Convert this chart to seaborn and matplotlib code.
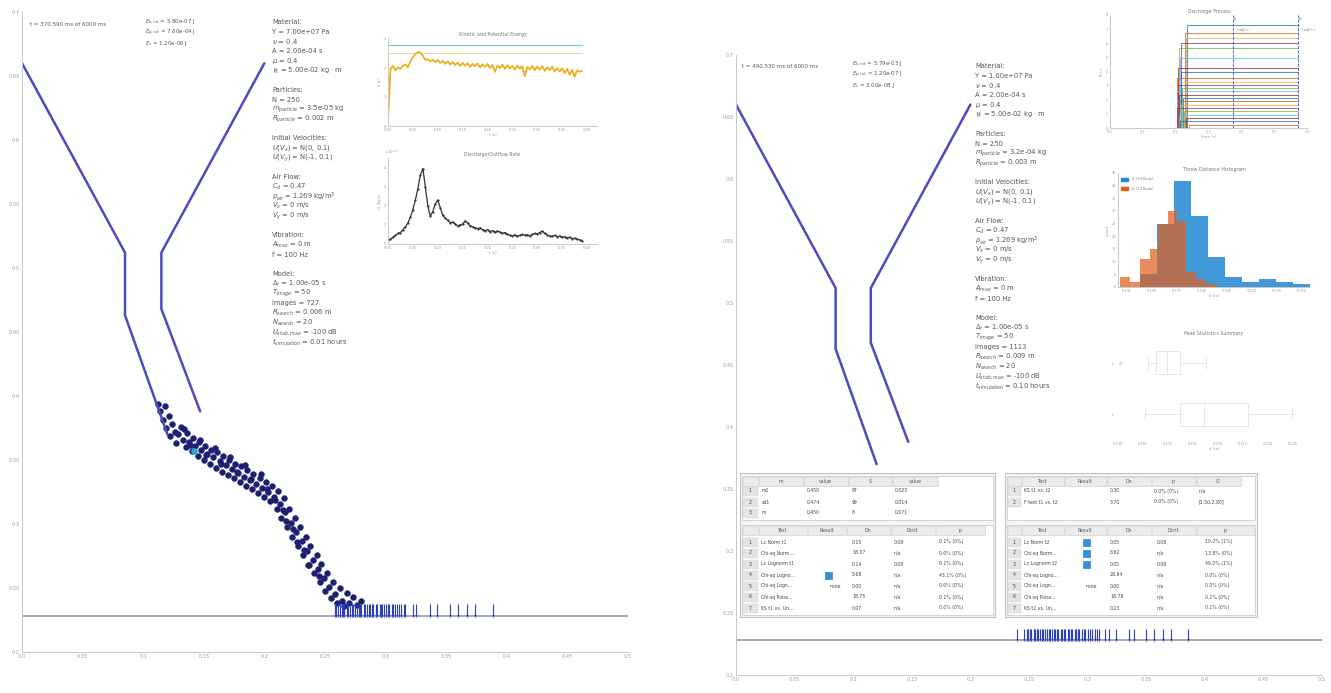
import numpy as np
import pandas as pd
import matplotlib
matplotlib.use("Agg")
import matplotlib.pyplot as plt
from matplotlib.patches import Rectangle, Patch
import seaborn as sns

sns.set_theme(style="white")
plt.rcParams["font.family"] = ["DejaVu Sans"]
plt.rcParams["mathtext.fontset"] = "dejavusans"

# ---------------- data ----------------
# hopper walls (m), same geometry in both snapshots
wall_left_x = [0.0, 0.085, 0.085, 0.12]
wall_left_y = [0.66, 0.512, 0.463, 0.37]
wall_right_x = [0.2, 0.115, 0.115, 0.147]
wall_right_y = [0.66, 0.512, 0.468, 0.388]
ground_y = 0.228

main_xticks = [0.0, 0.05, 0.1, 0.15, 0.2, 0.25, 0.3, 0.35, 0.4, 0.45, 0.5]
main_xlabels = ["0.0", "0.05", "0.1", "0.15", "0.2", "0.25", "0.3", "0.35", "0.4", "0.45", "0.5"]
main_yticks = [0.2, 0.25, 0.3, 0.35, 0.4, 0.45, 0.5, 0.55, 0.6, 0.65, 0.7]
main_ylabels = ["0.2", "0.25", "0.3", "0.35", "0.4", "0.45", "0.5", "0.55", "0.6", "0.65", "0.7"]

# particles still sliding (left snapshot)
particle_x = [0.112, 0.114, 0.116, 0.118, 0.119, 0.121, 0.122, 0.124, 0.126, 0.127,
              0.129, 0.131, 0.133, 0.135, 0.136, 0.138, 0.140, 0.141, 0.143, 0.145,
              0.146, 0.148, 0.150, 0.151, 0.153, 0.155, 0.156, 0.158, 0.160, 0.161,
              0.163, 0.165, 0.166, 0.168, 0.170, 0.171, 0.173, 0.175, 0.176, 0.178,
              0.180, 0.181, 0.183, 0.185, 0.186, 0.188, 0.190, 0.191, 0.193, 0.195,
              0.196, 0.198, 0.200, 0.201, 0.203, 0.205, 0.206, 0.208, 0.210, 0.211,
              0.213, 0.214, 0.216, 0.217, 0.219, 0.220, 0.222, 0.223, 0.225, 0.226,
              0.228, 0.229, 0.231, 0.232, 0.234, 0.235, 0.237, 0.238, 0.240, 0.241,
              0.243, 0.244, 0.246, 0.247, 0.249, 0.250, 0.252, 0.253, 0.255, 0.257,
              0.258, 0.260, 0.262, 0.264, 0.266, 0.268, 0.270, 0.273, 0.276, 0.280,
              0.134, 0.147, 0.159, 0.172, 0.184, 0.197, 0.209, 0.218, 0.227, 0.236,
              0.139, 0.152, 0.164, 0.177, 0.189, 0.202, 0.215, 0.224, 0.233, 0.245]
particle_y = [0.394, 0.388, 0.381, 0.392, 0.375, 0.384, 0.369, 0.378, 0.372, 0.363,
              0.370, 0.376, 0.366, 0.360, 0.371, 0.364, 0.357, 0.367, 0.361, 0.353,
              0.364, 0.358, 0.350, 0.361, 0.355, 0.347, 0.358, 0.352, 0.344, 0.356,
              0.349, 0.341, 0.353, 0.346, 0.338, 0.350, 0.343, 0.336, 0.347, 0.340,
              0.333, 0.345, 0.337, 0.330, 0.342, 0.334, 0.327, 0.339, 0.331, 0.324,
              0.336, 0.328, 0.321, 0.333, 0.325, 0.318, 0.330, 0.321, 0.312, 0.326,
              0.316, 0.305, 0.320, 0.309, 0.298, 0.312, 0.301, 0.290, 0.305, 0.294,
              0.283, 0.298, 0.287, 0.276, 0.290, 0.279, 0.268, 0.283, 0.272, 0.262,
              0.276, 0.265, 0.255, 0.269, 0.258, 0.248, 0.262, 0.251, 0.242, 0.255,
              0.245, 0.238, 0.250, 0.240, 0.236, 0.246, 0.238, 0.243, 0.237, 0.240,
              0.374, 0.366, 0.359, 0.352, 0.346, 0.339, 0.319, 0.302, 0.286, 0.268,
              0.362, 0.354, 0.347, 0.341, 0.335, 0.327, 0.311, 0.296, 0.280, 0.259]
tracked_x = [0.142]
tracked_y = [0.357]

# landing positions on the ground (m)
landed_left = [0.258, 0.259, 0.261, 0.262, 0.264, 0.265, 0.266, 0.268, 0.269, 0.271,
               0.272, 0.273, 0.275, 0.276, 0.278, 0.279, 0.280, 0.282, 0.283, 0.285,
               0.286, 0.287, 0.289, 0.290, 0.292, 0.293, 0.295, 0.296, 0.297, 0.299,
               0.300, 0.302, 0.303, 0.305, 0.306, 0.308, 0.309, 0.311, 0.313, 0.315,
               0.316, 0.323, 0.325, 0.337, 0.342, 0.353, 0.360, 0.367, 0.374, 0.389]
landed_right = [0.240, 0.246, 0.248, 0.249, 0.251, 0.252, 0.254, 0.255, 0.257, 0.258,
                0.259, 0.261, 0.262, 0.264, 0.265, 0.267, 0.268, 0.270, 0.271, 0.272,
                0.274, 0.275, 0.277, 0.278, 0.280, 0.281, 0.283, 0.284, 0.286, 0.287,
                0.289, 0.290, 0.292, 0.293, 0.295, 0.297, 0.298, 0.300, 0.302, 0.304,
                0.306, 0.308, 0.310, 0.315, 0.318, 0.324, 0.335, 0.340, 0.350, 0.357,
                0.364, 0.371, 0.386]

# time axis shared by the two left insets (s)
t_series = [0.000, 0.005, 0.010, 0.015, 0.020, 0.025, 0.030, 0.035, 0.040, 0.045,
            0.050, 0.055, 0.060, 0.065, 0.070, 0.075, 0.080, 0.085, 0.090, 0.095,
            0.100, 0.105, 0.110, 0.115, 0.120, 0.125, 0.130, 0.135, 0.140, 0.145,
            0.150, 0.155, 0.160, 0.165, 0.170, 0.175, 0.180, 0.185, 0.190, 0.195,
            0.200, 0.205, 0.210, 0.215, 0.220, 0.225, 0.230, 0.235, 0.240, 0.245,
            0.250, 0.255, 0.260, 0.265, 0.270, 0.275, 0.280, 0.285, 0.290, 0.295,
            0.300, 0.305, 0.310, 0.315, 0.320, 0.325, 0.330, 0.335, 0.340, 0.345,
            0.350, 0.355, 0.360, 0.365, 0.370, 0.375, 0.380, 0.385, 0.390]
energy_total = [0.20, 1.95, 2.05, 1.90, 2.00, 1.95, 2.05, 2.10, 2.00, 2.20,
                2.35, 2.45, 2.52, 2.50, 2.40, 2.25, 2.28, 2.20, 2.26, 2.18,
                2.25, 2.15, 2.22, 2.12, 2.20, 2.10, 2.18, 2.08, 2.16, 2.05,
                2.15, 2.06, 2.14, 2.02, 2.12, 2.04, 2.13, 2.00, 2.10, 2.02,
                2.12, 1.98, 2.08, 1.85, 2.06, 1.97, 2.09, 1.95, 2.07, 1.96,
                2.05, 1.92, 2.06, 1.95, 2.04, 1.70, 2.02, 1.93, 2.05, 1.90,
                2.03, 1.92, 2.04, 1.88, 2.00, 1.90, 2.02, 1.86, 1.98, 1.85,
                1.97, 1.80, 1.95, 1.75, 1.92, 1.68, 1.90, 1.85, 1.88]
energy_potential = 2.77
energy_initial = 2.49
outflow = [0.20, 0.25, 0.35, 0.45, 0.55, 0.60, 0.75, 0.90, 1.10, 1.40,
           1.80, 2.30, 2.90, 3.60, 3.95, 3.00, 2.00, 1.45, 1.70, 2.10,
           2.30, 1.90, 1.50, 1.35, 1.25, 1.10, 1.15, 1.05, 0.95, 1.00,
           1.05, 1.20, 1.10, 0.95, 0.90, 0.85, 0.80, 0.85, 0.75, 0.70,
           0.75, 0.65, 0.70, 0.62, 0.68, 0.62, 0.55, 0.60, 0.50, 0.45,
           0.42, 0.48, 0.40, 0.45, 0.50, 0.45, 0.48, 0.42, 0.50, 0.55,
           0.52, 0.60, 0.68, 0.55, 0.45, 0.42, 0.40, 0.45, 0.38, 0.42,
           0.35, 0.38, 0.32, 0.35, 0.28, 0.30, 0.25, 0.22, 0.18]

# discharge process (right, top inset)
discharge_level = [7.29, 6.70, 6.35, 6.00, 5.65, 4.94, 4.24, 4.00, 3.53, 3.29, 3.06, 2.82,
                   2.59, 2.35, 2.12, 1.88, 1.65, 1.41, 1.18, 0.94, 0.71, 0.47, 0.24]
discharge_start = [0.232, 0.226, 0.230, 0.215, 0.210, 0.212, 0.205, 0.214, 0.202, 0.208, 0.205, 0.218,
                   0.203, 0.210, 0.220, 0.206, 0.216, 0.204, 0.225, 0.209, 0.230, 0.212, 0.240]
discharge_end = 0.57
t_marks = [0.373, 0.57]

# throw distance histograms (right, middle inset)
hist1_edges = [0.153, 0.1632, 0.1734, 0.1836, 0.1938, 0.204, 0.2142, 0.2244, 0.2346, 0.2448, 0.255]
hist1_counts = [5, 25, 42, 28, 12, 4, 2, 3, 2, 1]
hist2_edges = [0.141, 0.147, 0.153, 0.159, 0.164, 0.170, 0.1754, 0.181, 0.187, 0.193, 0.199]
hist2_counts = [4, 2, 11, 15, 25, 30, 26, 6, 3, 1]

# summary boxplots (right, bottom inset)
summary_t1 = [0.141, 0.158, 0.162, 0.165, 0.168, 0.171, 0.175, 0.178, 0.186, 0.193]
summary_t2 = [0.156, 0.168, 0.172, 0.176, 0.180, 0.184, 0.188, 0.195, 0.205, 0.212,
              0.220, 0.228, 0.236, 0.244]

# parameter panels
left_params = ["Material:", "Y = 7.00e+07 Pa", r"$\nu$ = 0.4", "A = 2.00e-04 s", r"$\mu$ = 0.4",
               r"$\gamma_t$ = 5.00e-02 kg $\cdot$ m", "",
               "Particles:", "N = 250", r"$m_{particle}$ = 3.5e-05 kg", r"$R_{particle}$ = 0.002 m", "",
               "Initial Velocities:", r"$U(V_x)$ = N(0, 0.1)", r"$U(V_y)$ = N(-1, 0.1)", "",
               "Air Flow:", r"$C_d$ = 0.47", r"$\rho_{air}$ = 1.269 kg/m$^3$", r"$V_x$ = 0 m/s", r"$V_y$ = 0 m/s", "",
               "Vibration:", r"$A_{max}$ = 0 m", "f = 100 Hz", "",
               "Model:", r"$\Delta_t$ = 1.00e-05 s", r"$T_{image}$ = 50", "Images = 727",
               r"$R_{search}$ = 0.006 m", r"$N_{search}$ = 20", r"$U_{stab,max}$ = -100 dB",
               r"$t_{simulation}$ = 0.01 hours"]
right_params = ["Material:", "Y = 1.00e+07 Pa", r"$\nu$ = 0.4", "A = 2.00e-04 s", r"$\mu$ = 0.4",
                r"$\gamma_t$ = 5.00e-02 kg $\cdot$ m", "",
                "Particles:", "N = 250", r"$m_{particle}$ = 3.2e-04 kg", r"$R_{particle}$ = 0.003 m", "",
                "Initial Velocities:", r"$U(V_x)$ = N(0, 0.1)", r"$U(V_y)$ = N(-1, 0.1)", "",
                "Air Flow:", r"$C_d$ = 0.47", r"$\rho_{air}$ = 1.269 kg/m$^3$", r"$V_x$ = 0 m/s", r"$V_y$ = 0 m/s", "",
                "Vibration:", r"$A_{max}$ = 0 m", "f = 100 Hz", "",
                "Model:", r"$\Delta_t$ = 1.00e-05 s", r"$T_{image}$ = 50", "Images = 1113",
                r"$R_{search}$ = 0.009 m", r"$N_{search}$ = 20", r"$U_{stab,max}$ = -100 dB",
                r"$t_{simulation}$ = 0.10 hours"]
left_time = "t = 370.590 ms of 6000 ms"
right_time = "t = 490.530 ms of 6000 ms"
left_energy = [r"$E_{k,tot}$ = 5.80e-07 J", r"$E_{p,tot}$ = 7.60e-04 J", r"$E_s$ = 1.20e-06 J"]
right_energy = [r"$E_{k,tot}$ = 5.79e-03 J", r"$E_{p,tot}$ = 1.20e-07 J", r"$E_s$ = 3.00e-08 J"]

# result tables
tl_headers = ["", "m", "value", "S", "value"]
tl_rows = [["1", "m1", "0.450", "97", "0.023"],
           ["2", "sd1", "0.474", "99", "0.014"],
           ["3", "m", "0.450", "8", "0.071"]]
bl_headers = ["", "Test", "Result", "Dn", "Dcrit", "p"]
bl_rows = [["1", "Lc Norm t1", "", "0.15", "0.08", "0.1% (0%)"],
           ["2", "Chi-sq Norm ...", "", "18.07", "n/a", "0.0% (0%)"],
           ["3", "Lc Lognorm t1", "", "0.14", "0.08", "0.1% (0%)"],
           ["4", "Chi-sq Logno...", "", "5.68", "n/a", "43.1% (0%)"],
           ["5", "Chi-sq Logn...", "none", "0.00", "n/a", "0.0% (0%)"],
           ["6", "Chi-sq Poiss...", "", "18.75", "n/a", "0.1% (0%)"],
           ["7", "KS t1 vs. Un...", "", "0.07", "n/a", "0.0% (0%)"]]
bl_checked = [4]
tr_headers = ["", "Test", "Result", "Dn", "p", "CI"]
tr_rows = [["1", "KS t1 vs. t2", "", "0.30", "0.0% (0%)", "n/a"],
           ["2", "F-test t1 vs. t2", "", "3.70", "0.0% (0%)", "[1.50,2.80]"]]
br_headers = ["", "Test", "Result", "Dn", "Dcrit", "p"]
br_rows = [["1", "Lc Norm t2", "", "0.05", "0.08", "10.2% (1%)"],
           ["2", "Chi-sq Norm...", "", "8.62", "n/a", "13.8% (0%)"],
           ["3", "Lc Lognorm t2", "", "0.05", "0.08", "40.2% (1%)"],
           ["4", "Chi-sq Logno...", "", "28.64", "n/a", "0.0% (0%)"],
           ["5", "Chi-sq Logn...", "none", "0.00", "n/a", "0.0% (0%)"],
           ["6", "Chi-sq Poiss...", "", "18.78", "n/a", "0.1% (0%)"],
           ["7", "KS t2 vs. Un...", "", "0.23", "n/a", "0.1% (0%)"]]
br_checked = [1, 2, 3]

# ---------------- figure ----------------
W, H = 1331, 693
fig = plt.figure(figsize=(W / 100, H / 100), dpi=100)
fig.patch.set_facecolor("white")

WALL = "#4c4cbf"
NAVY = "#1d2070"
TICKBLUE = "#2a40c0"
GRID = "#c8c8c8"
TXT = "#555555"
MAT = ["#0072BD", "#D95319", "#EDB120", "#7E2F8E", "#77AC30", "#4DBEEE", "#A2142F"]


def px_axes(x0, y0, x1, y1):
    return fig.add_axes([x0 / W, 1 - y1 / H, (x1 - x0) / W, (y1 - y0) / H])


def ptext(x, y, s, size=5.0, **kw):
    fig.text(x / W, 1 - y / H, s, fontsize=size, color=kw.pop("color", TXT), va="center", **kw)


def matlab_style(ax, size=3.5):
    ax.set_facecolor("none")
    for s in ["top", "right"]:
        ax.spines[s].set_visible(False)
    for s in ["left", "bottom"]:
        ax.spines[s].set_color(GRID)
        ax.spines[s].set_linewidth(0.7)
    ax.tick_params(direction="in", length=2.5, width=0.5, color=GRID,
                   labelcolor="#9a9a9a", labelsize=size, pad=1.5)
    ax.set_xlabel("")
    ax.set_ylabel("")


def main_panel(ax, landed):
    sns.lineplot(x=wall_left_x, y=wall_left_y, sort=False, estimator=None, color=WALL, lw=1.8, ax=ax)
    sns.lineplot(x=wall_right_x, y=wall_right_y, sort=False, estimator=None, color=WALL, lw=1.8, ax=ax)
    sns.lineplot(x=[0.0, 0.5], y=[ground_y, ground_y], color="#8a92aa", lw=1.1, ax=ax)
    ax.vlines(landed, ground_y, ground_y + 0.0095, color=TICKBLUE, lw=0.8)
    sns.scatterplot(x=landed, y=[ground_y] * len(landed), marker="v", s=5,
                    color=TICKBLUE, edgecolor=TICKBLUE, linewidth=0, ax=ax)
    ax.set_xlim(0, 0.5)
    ax.set_ylim(0.2, 0.7)
    ax.set_xticks(main_xticks, main_xlabels)
    ax.set_yticks(main_yticks, main_ylabels)
    matlab_style(ax, 3.6)


# left snapshot
axL = px_axes(22, 12, 628, 652)
main_panel(axL, landed_left)
sns.scatterplot(x=particle_x, y=particle_y, s=18, color=NAVY, edgecolor=NAVY, linewidth=0.3, ax=axL)
sns.scatterplot(x=tracked_x, y=tracked_y, s=20, color="#2ea3d6", edgecolor="#2ea3d6", linewidth=0.3, ax=axL)

# right snapshot
axR = px_axes(736, 55, 1322, 675)
main_panel(axR, landed_right)

# text panels
ptext(30, 25, left_time, 4.0)
ptext(742, 67, right_time, 4.0)
for i, s in enumerate(left_energy):
    ptext(145, 22 + i * 10.5, s, 4.0)
for i, s in enumerate(right_energy):
    ptext(852, 64 + i * 10.5, s, 4.0)
for i, s in enumerate(left_params):
    if s:
        ptext(272, 22 + i * 9.7, s, 4.9)
for i, s in enumerate(right_params):
    if s:
        ptext(975, 66 + i * 9.7, s, 4.9)

# ---- left insets ----
axE = px_axes(388, 38, 597, 126)
sns.lineplot(x=t_series, y=[energy_potential] * len(t_series), color="#6cc7d8", lw=0.8, ax=axE)
sns.lineplot(x=t_series, y=[energy_initial] * len(t_series), color="#e9d9a0", lw=0.7, ax=axE)
sns.lineplot(x=t_series, y=energy_total, color="#E8B020", lw=1.3, ax=axE)
axE.set_xlim(0, 0.42)
axE.set_ylim(0, 3)
axE.set_xticks([0, 0.05, 0.1, 0.15, 0.2, 0.25, 0.3, 0.35, 0.4])
axE.set_yticks([0, 1, 2, 3])
matlab_style(axE, 2.6)
axE.set_title("Kinetic and Potential Energy", fontsize=3.4, color="#777777", pad=1.5)
axE.set_xlabel("t (s)", fontsize=2.8, color="#999999", labelpad=1)
axE.set_ylabel("E (J)", fontsize=2.8, color="#999999", labelpad=1)

axF = px_axes(388, 158, 597, 244)
sns.lineplot(x=t_series, y=outflow, color="#333333", lw=0.9, marker="o", markersize=1.6,
             markeredgewidth=0, ax=axF)
axF.set_xlim(0, 0.42)
axF.set_ylim(0, 4.5)
axF.set_xticks([0, 0.05, 0.1, 0.15, 0.2, 0.25, 0.3, 0.35, 0.4])
axF.set_yticks([0, 1, 2, 3, 4])
matlab_style(axF, 2.6)
axF.set_title("Discharge/Outflow Rate", fontsize=3.4, color="#777777", pad=1.5)
axF.set_xlabel("t (s)", fontsize=2.8, color="#999999", labelpad=1)
axF.set_ylabel("Q (kg/s)", fontsize=2.8, color="#999999", labelpad=1)
axF.text(-0.02, 1.04, r"$\times10^{-3}$", transform=axF.transAxes, fontsize=2.8, color="#999999")

# ---- right insets ----
axD = px_axes(1110, 15, 1308, 128)
for i, (lv, st) in enumerate(zip(discharge_level, discharge_start)):
    c = MAT[i % len(MAT)]
    sns.lineplot(x=[st, st, discharge_end], y=[0, lv, lv], sort=False, estimator=None,
                 color=c, lw=0.6, alpha=0.85, ax=axD)
for tm in t_marks:
    axD.axvline(tm, color="#3050c8", lw=0.6, ls="--")
axD.text(t_marks[0], 7.6, r"t$_1$", fontsize=2.8, color="#666666")
axD.text(t_marks[1], 7.6, r"t$_2$", fontsize=2.8, color="#666666")
axD.text(t_marks[0] + 0.005, 6.9, r"$\}$ adj(t$_1$)", fontsize=2.5, color="#888888")
axD.text(t_marks[1] + 0.005, 6.9, r"$\}$ adj(t$_2$)", fontsize=2.5, color="#888888")
axD.set_xlim(0, 0.6)
axD.set_ylim(0, 8)
axD.set_xticks([0, 0.1, 0.2, 0.3, 0.4, 0.5, 0.6])
axD.set_yticks([0, 1, 2, 3, 4, 5, 6, 7, 8])
matlab_style(axD, 2.5)
axD.set_title("Discharge Process", fontsize=3.4, color="#777777", pad=1.5)
axD.set_xlabel("time (s)", fontsize=2.8, color="#999999", labelpad=1)
axD.set_ylabel("N (-)", fontsize=2.8, color="#999999", labelpad=1)

axH = px_axes(1118, 173, 1310, 287)
sns.histplot(x=hist1_edges[:-1], weights=hist1_counts, bins=hist1_edges, color="#1f86d0",
             alpha=0.85, edgecolor="none", ax=axH)
sns.histplot(x=hist2_edges[:-1], weights=hist2_counts, bins=hist2_edges, color="#e0601e",
             alpha=0.72, edgecolor="none", ax=axH)
axH.set_xlim(0.14, 0.255)
axH.set_ylim(0, 45)
axH.set_xticks([0.145, 0.16, 0.175, 0.19, 0.205, 0.22, 0.235, 0.25])
axH.set_yticks([0, 5, 10, 15, 20, 25, 30, 35, 40, 45])
matlab_style(axH, 2.5)
axH.set_title("Throw Distance Histogram", fontsize=3.4, color="#777777", pad=1.5)
axH.set_xlabel("d (m)", fontsize=2.8, color="#999999", labelpad=1)
axH.set_ylabel("count", fontsize=2.8, color="#999999", labelpad=1)
axH.legend(handles=[Patch(color="#1f86d0", label="t$_1$ (15 flows)"),
                    Patch(color="#e0601e", label="t$_2$ (12 flows)")],
           loc="upper left", fontsize=2.6, frameon=False, handlelength=2.2, handleheight=1.0,
           borderaxespad=0.3, labelcolor="#777777")

axS = px_axes(1118, 337, 1310, 440)
summary = pd.DataFrame({"d": summary_t1 + summary_t2,
                        "run": ["t1"] * len(summary_t1) + ["t2"] * len(summary_t2)})
sns.boxplot(data=summary, x="d", y="run", orient="h", fill=False, color="#dddddd",
            linewidth=0.5, fliersize=1.5, width=0.45, ax=axS)
axS.set_xlim(0.14, 0.255)
axS.set_xticks([0.14, 0.155, 0.17, 0.185, 0.2, 0.215, 0.23, 0.245])
matlab_style(axS, 2.5)
axS.spines["left"].set_visible(False)
axS.spines["bottom"].set_visible(False)
axS.set_yticks([0, 1], ["t$_1$", "t$_2$"])
axS.set_title("Peak Statistics Summary", fontsize=3.4, color="#777777", pad=1.5)
axS.set_xlabel("d (m)", fontsize=2.8, color="#999999", labelpad=1)
axS.set_ylabel("")

# ---- result tables (drawn in pixel space on top) ----
tab = fig.add_axes([0, 0, 1, 1])
tab.set_xlim(0, W)
tab.set_ylim(H, 0)
tab.axis("off")


def rect(x0, y0, x1, y1, fc, ec="#c4c4c4", lw=0.5):
    tab.add_patch(Rectangle((x0, y0), x1 - x0, y1 - y0, facecolor=fc, edgecolor=ec, linewidth=lw))


def draw_table(edges, text_x, top, bottom, right, headers, rows, row_y, checked=(), check_x=None):
    rect(edges[0], top, right, bottom, "white")
    for i, h in enumerate(headers):
        rect(edges[i] + 0.5, top + 1, edges[i + 1] - 0.5, top + 10, "#ebebeb", "#c9c9c9", 0.4)
        tab.text((edges[i] + edges[i + 1]) / 2, top + 5.5, h, fontsize=3.4, color="#555555",
                 ha="center", va="center")
    for r, (row, y) in enumerate(zip(rows, row_y)):
        rect(edges[0] + 0.5, y - 4.5, edges[1] - 0.5, y + 4.5, "#e4e4e4", "#d0d0d0", 0.3)
        for j, cell in enumerate(row):
            if cell:
                tab.text(text_x[j], y, cell, fontsize=3.3, color="#444444",
                         ha="center" if j == 0 else "left", va="center")
        if (r + 1) in checked:
            rect(check_x - 3.5, y - 3.5, check_x + 3.5, y + 3.5, "#2f8fe0", "#1f70c0", 0.4)


# left block
rect(740, 473, 995, 617, "#f4f4f4", "#b4b4b4", 0.6)
draw_table([742, 758, 803, 848, 892, 938], [750, 762, 807, 852, 895],
           476, 520, 993, tl_headers, tl_rows, [491, 502, 513])
draw_table([742, 758, 807, 846, 890, 935, 985], [750, 761, 830, 852, 894, 939],
           525, 615, 993, bl_headers, bl_rows, [542, 553, 564, 575, 586, 597, 608], bl_checked, 828)

# right block
rect(1005, 473, 1257, 617, "#f4f4f4", "#b4b4b4", 0.6)
draw_table([1007, 1021, 1064, 1106, 1151, 1196, 1241], [1014, 1024, 1086, 1110, 1154, 1199],
           476, 520, 1255, tr_headers, tr_rows, [491, 502])
draw_table([1007, 1021, 1064, 1106, 1151, 1196, 1255], [1014, 1024, 1086, 1110, 1157, 1205],
           525, 615, 1255, br_headers, br_rows, [542, 553, 564, 575, 586, 597, 608], br_checked, 1086)

fig.savefig("out.png", dpi=100, facecolor="white")
